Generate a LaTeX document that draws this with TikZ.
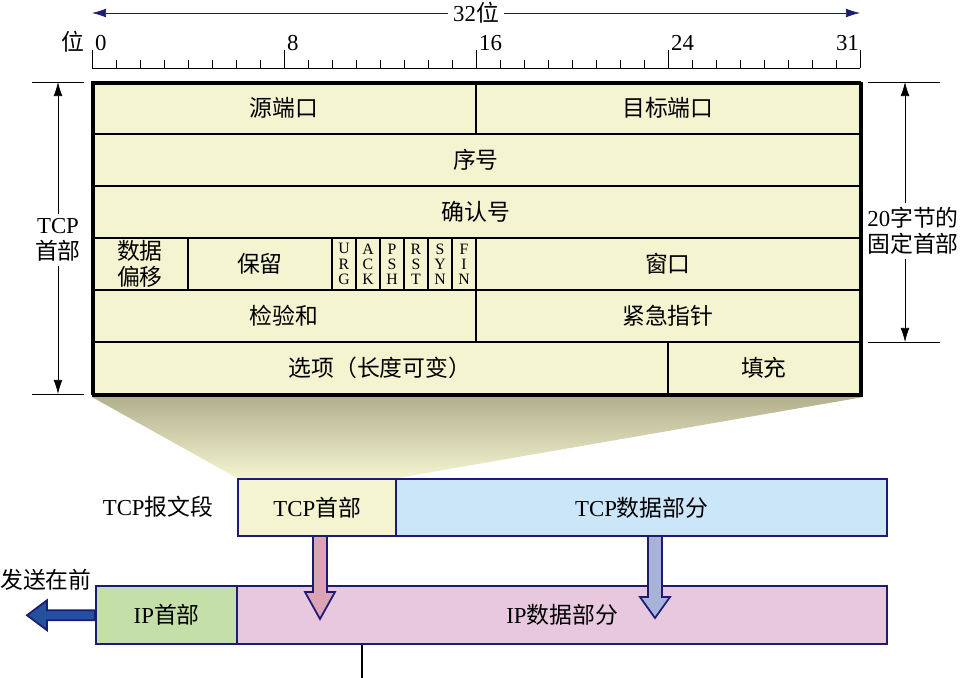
\documentclass[tikz,border=0pt]{standalone}
\usepackage{fontspec}
\setmainfont{Liberation Serif}
\newfontfamily\zh{Noto Sans CJK SC}
\usetikzlibrary{arrows.meta,backgrounds}

\definecolor{cellfill}{HTML}{F4F4D0}
\definecolor{navy}{HTML}{1C1C74}
\definecolor{segdata}{HTML}{CCE6F9}
\definecolor{iphdr}{HTML}{C5DFA9}
\definecolor{ipbody}{HTML}{E8C8DF}
\definecolor{funneltop}{HTML}{B3B08E}
\definecolor{pinkarrow}{HTML}{DBA3B3}
\definecolor{bluearrow}{HTML}{A9B3DA}
\definecolor{sendarrow}{HTML}{24509E}

\tikzset{
  cell/.style={draw, line width=1pt, fill=cellfill, inner sep=0pt, outer sep=0pt,
    anchor=north west, minimum height=1.04cm, align=center},
  flag/.style={cell, minimum width=0.48cm, font=\fontsize{9}{8.6}\selectfont},
  pkt/.style={draw=navy, line width=1.4pt, inner sep=0pt, anchor=north west,
    minimum height=1.14cm},
  blockarrow/.style={draw=navy, line width=1pt},
}

\begin{document}
\begin{tikzpicture}[x=0.02cm, y=-0.02cm, font=\fontsize{13}{15}\selectfont,
  >={Latex[length=8pt,width=5pt]}]
  \useasboundingbox (0,0) rectangle (960,678);

  % bit ruler
  \node[fill=white, inner sep=3pt] (width) at (476,13) {32{\zh 位}};
  \draw[navy, ->] (width) -- (860,13);
  \draw[navy, ->] (width) -- (92,13);
  \draw (92,68) -- (860,68);
  \foreach \i in {0,...,32}
    \draw ({92+24*\i},68) -- ++(0,-8);
  \foreach \i in {0,8,16,24,32}
    \draw ({92+24*\i},68) -- ++(0,-18);
  \node[anchor=base east, inner sep=1pt] (bitword) at (86,51) {\zh 位};
  \node[anchor=base west, inner sep=1pt] (b0) at (93,51) {0};
  \node[anchor=base west, inner sep=1pt] (b8) at (285,51) {8};
  \node[anchor=base west, inner sep=1pt] (b16) at (477,51) {16};
  \node[anchor=base west, inner sep=1pt] (b24) at (669,51) {24};
  \node[anchor=base east, inner sep=1pt] (b31) at (861,51) {31};

  % header fields
  \node[cell, minimum width=7.68cm] (srcport) at (92,82) {\zh 源端口};
  \node[cell, minimum width=7.68cm] (dstport) at (476,82) {\zh 目标端口};
  \node[cell, minimum width=15.36cm] (seqno) at (92,134) {\zh 序号};
  \node[cell, minimum width=15.36cm] (ackno) at (92,186) {\zh 确认号};
  \node[cell, minimum width=1.92cm] (offset) at (92,238) {{\zh 数据}\\{\zh 偏移}};
  \node[cell, minimum width=2.88cm] (reserved) at (188,238) {\zh 保留};
  \foreach \f [count=\i from 0] in {{U\\R\\G},{A\\C\\K},{P\\S\\H},{R\\S\\T},{S\\Y\\N},{F\\I\\N}}
    \node[flag] (flag\i) at ({332+24*\i},238) {\f};
  \node[cell, minimum width=7.68cm] (window) at (476,238) {\zh 窗口};
  \node[cell, minimum width=7.68cm] (checksum) at (92,290) {\zh 检验和};
  \node[cell, minimum width=7.68cm] (urgent) at (476,290) {\zh 紧急指针};
  \node[cell, minimum width=11.52cm] (options) at (92,342) {\zh 选项（长度可变）};
  \node[cell, minimum width=3.84cm] (padding) at (668,342) {\zh 填充};
  \node[draw, line width=1.8pt, inner sep=0pt, anchor=north west,
    minimum width=15.36cm, minimum height=6.24cm] (header) at (92,82) {};

  % header size marks
  \draw (32,82) -- (84,82) (32,394) -- (84,394);
  \node[align=center, inner sep=2pt] (hdrlbl) at (58,240) {TCP\\{\zh 首部}};
  \coordinate (ltop) at (58,82);
  \coordinate (lbot) at (58,394);
  \draw[->] (hdrlbl) -- (ltop);
  \draw[->] (hdrlbl) -- (lbot);
  \draw (868,82) -- (940,82) (868,342) -- (940,342);
  \node[align=center, inner sep=2pt] (fixlbl) at (913,231) {20{\zh 字节的}\\{\zh 固定首部}};
  \coordinate (rtop) at (905,82);
  \coordinate (rbot) at (905,342);
  \draw[->] (fixlbl.north -| rtop) -- (rtop);
  \draw[->] (fixlbl.south -| rbot) -- (rbot);

  % TCP segment and IP datagram
  \node[pkt, fill=cellfill, minimum width=3.16cm] (tcphead) at (237,478) {TCP{\zh 首部}};
  \node[pkt, fill=segdata, minimum width=9.82cm] (tcpdata) at (395,478) {TCP{\zh 数据部分}};
  \node (seglbl) at (158,507) {TCP{\zh 报文段}};
  \node[pkt, fill=iphdr, minimum width=2.82cm, minimum height=1.16cm] (iphead) at (95,585) {IP{\zh 首部}};
  \node[pkt, fill=ipbody, minimum width=13cm, minimum height=1.16cm] (ipdata) at (236,585) {IP{\zh 数据部分}};
  \node (sendlbl) at (46,580) {\zh 发送在前};

  \begin{scope}[on background layer]
    \shade[top color=funneltop, bottom color=cellfill]
      (header.south west) -- (header.south east) -- (tcphead.north east) -- (tcphead.north west) -- cycle;
  \end{scope}

  % moving arrows
  \filldraw[blockarrow, fill=pinkarrow] (313,536) -- (313,592) -- (305,592) -- (320,619)
    -- (335,592) -- (327,592) -- (327,536) -- cycle;
  \filldraw[blockarrow, fill=bluearrow] (648,536) -- (648,597) -- (640,597) -- (655,618)
    -- (670,597) -- (662,597) -- (662,536) -- cycle;
  \filldraw[blockarrow, fill=sendarrow] (iphead.west) ++(0,-5) -- ++(-48,0) -- ++(0,-10)
    -- ++(-20,15) -- ++(20,15) -- ++(0,-10) -- ++(48,0) -- cycle;

  \coordinate (cut) at (362,678);
  \draw[line width=1.2pt] (cut |- ipdata.south) -- (cut);
\end{tikzpicture}
\end{document}
